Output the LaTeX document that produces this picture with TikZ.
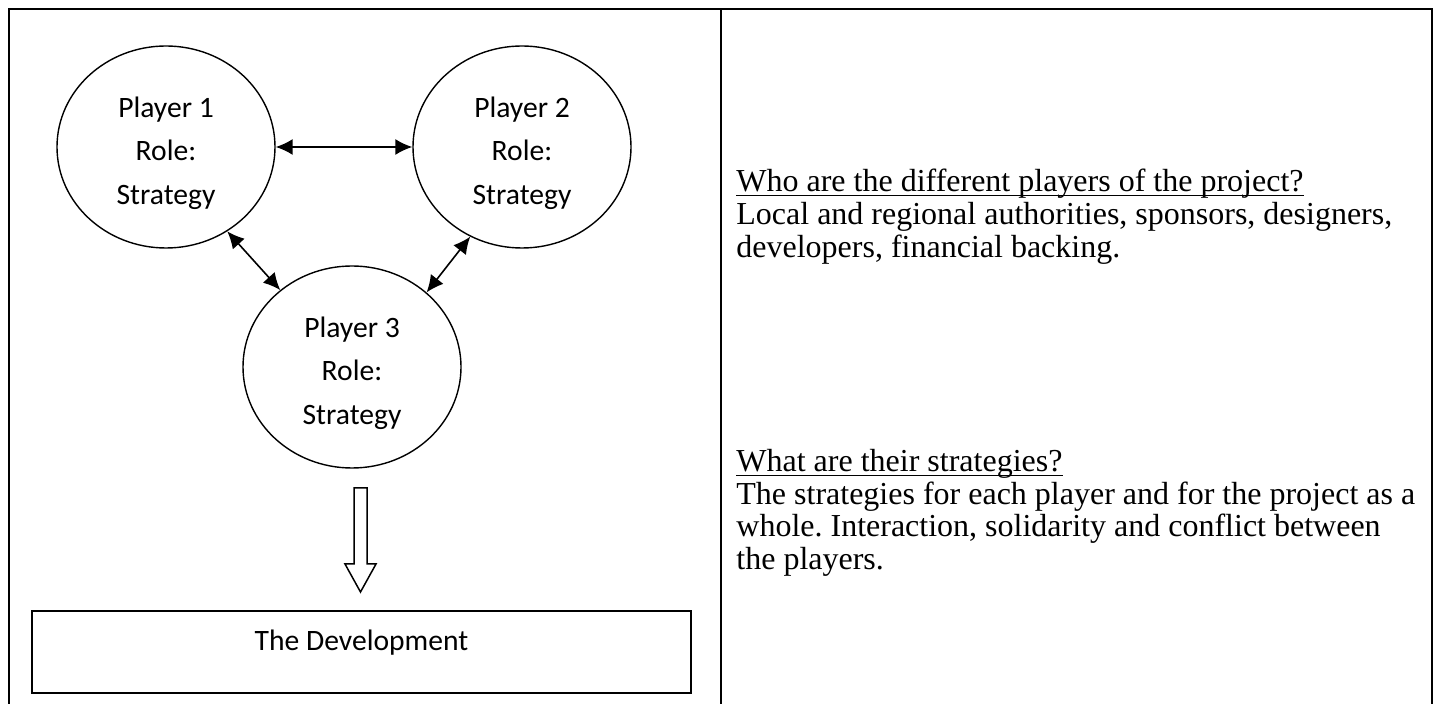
\documentclass[tikz,border=0pt]{standalone}
\usepackage{fontspec}
\setmainfont{Liberation Serif}
\newfontfamily\calibri{Carlito}
\usetikzlibrary{arrows.meta,shapes.geometric}
\frenchspacing
\begin{document}
\begin{tikzpicture}[x=0.5pt,y=-0.5pt,
  frame/.style={line width=1pt},
  player/.style={ellipse,draw,line width=0.7pt,minimum width=109pt,minimum height=101pt,inner sep=0pt,align=center,font=\calibri\fontsize{14.8}{21.75}\selectfont},
  link/.style={line width=0.8pt,{Latex[length=8.5pt,width=8pt]}-{Latex[length=8.5pt,width=8pt]}},
  body/.style={anchor=base west,inner sep=0pt,font=\fontsize{16}{18}\selectfont},
  uline/.style={line width=0.6pt},
  devbox/.style={draw,line width=0.9pt,minimum width=329.5pt,minimum height=41pt,inner sep=0pt},
  devtext/.style={inner sep=0pt,font=\calibri\fontsize{14.8}{16}\selectfont},
  hollow/.style={line width=0.75pt,line join=miter}]
\useasboundingbox (0,0) rectangle (1440,704);
% table frame
\draw[frame] (9,704) -- (9,9) -- (1432,9) -- (1432,704);
\draw[frame] (721,9) -- (721,704);
% players
\node[player] (p1) at (166,147) {\\[-5.5pt]Player 1\\Role:\\Strategy};
\node[player] (p2) at (522,147) {\\[-5.5pt]Player 2\\Role:\\Strategy};
\node[player] (p3) at (352,367) {\\[-5.5pt]Player 3\\Role:\\Strategy};
\draw[link] (p1) -- (p2);
\draw[link] (p1.-54) -- (p3.133);
\draw[link] (p3.45) -- (p2.240);
% development
\node[devbox] (dev) at (361.5,652) {};
\node[devtext] (devlabel) at (361.5,643) {The Development};
% hollow arrow
\draw[hollow] (354,488) -- (367,488) -- (367,564) -- (376,564) -- (360.5,592) -- (345,564) -- (354,564) -- cycle;
% right column
\node[body] (q1) at (736,192) {Who are the different players of the project?};
\node[body] (a1) at (736,225) {Local and regional authorities, sponsors, designers,};
\node[body] (a2) at (736,258) {developers, financial backing.};
\node[body] (q2) at (736,472) {What are their strategies?};
\node[body] (b1) at (736,504.5) {The strategies for each player and for the project as a};
\node[body] (b2) at (736,537) {whole. Interaction, solidarity and conflict between};
\node[body] (b3) at (736,569.5) {the players.};
\draw[uline] ([yshift=-1.7pt]q1.base west) -- ([yshift=-1.7pt]q1.base east);
\draw[uline] ([yshift=-1.7pt]q2.base west) -- ([yshift=-1.7pt]q2.base east);
\end{tikzpicture}
\end{document}
